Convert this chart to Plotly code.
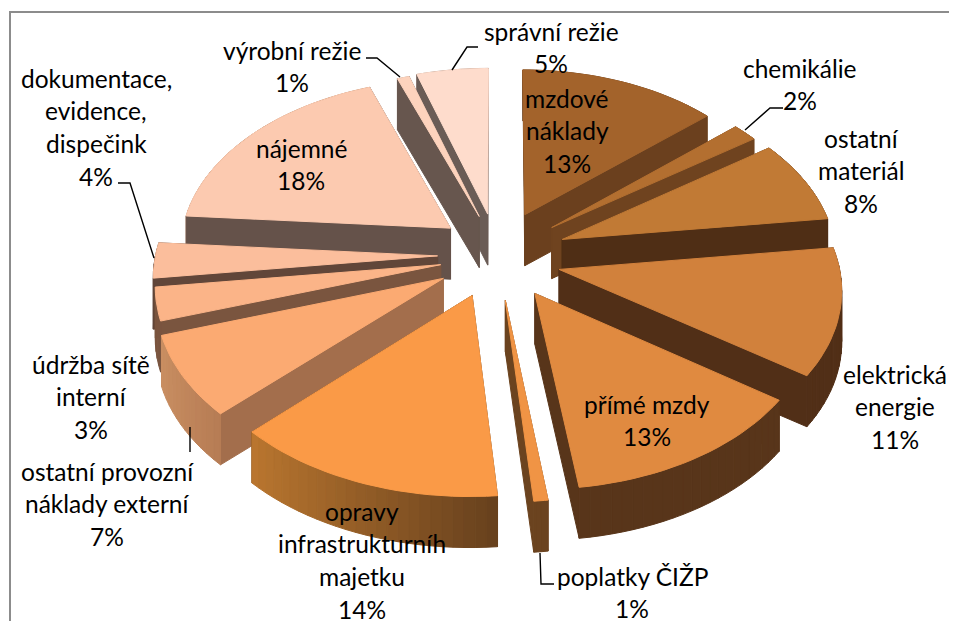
import math
import plotly.graph_objects as go

# ---------- data ----------
categories = ["mzdové náklady", "chemikálie", "ostatní materiál", "elektrická energie",
              "přímé mzdy", "poplatky ČIŽP", "opravy infrastrukturních majetku",
              "ostatní provozní náklady externí", "údržba sítě interní",
              "dokumentace, evidence, dispečink", "nájemné", "výrobní režie", "správní režie"]
values = [13, 2, 8, 11, 13, 1, 14, 7, 3, 4, 18, 1, 5]

# ---------- styles ----------
top_colors = ["#A3632B", "#B36F30", "#C17A35", "#D1813C", "#E08A40", "#F09445", "#FA9A47",
              "#FBAA72", "#FBB488", "#FBBE9C", "#FCCAB0", "#FDD3BD", "#FEDCCC"]
radial_colors = ["#6B401E", "#6F431F", "#4F2E15", "#512F17", "#58351A", "#6B431F", "#66401D",
                 "#A36E4C", "#7A553F", "#614639", "#65524A", "#67564E", "#6A5C56"]
outer_left = ["#6B401E", "#6F431F", "#4F2E15", "#512F17", "#58351A", "#6B431F", "#BA762F",
              "#C98E62", "#7A553F", "#614639", "#C08A68", "#B89A8A", "#B89A8A"]
outer_right = ["#6B401E", "#6F431F", "#4F2E15", "#512F17", "#58351A", "#6B431F", "#66401D",
               "#B67C54", "#7A553F", "#614639", "#C08A68", "#B89A8A", "#B89A8A"]

# perspective skew of each slice's end edge (degrees), slice displacement (px), slice radius factor
edge_skew = [1.8, 0.7, 0, 2.5, 3.2, 2.2, 2.2, 3.6, 3.6, 0.7, 1.4, 0.7, 0]
slice_dx = [-3, 3, 5, -1, 0, -6, -13, -13, -9, -11, -10, -8, -9]
slice_dy = [-9, -6, -3, 6, 8, 10, 7, 5, 2, 0, -6, -6, -7]
slice_r = [0.94, 0.95, 0.97, 0.99, 0.97, 0.99, 0.99, 1.0, 1.0, 1.0, 0.96, 0.95, 0.95]

CX, CY, SX, SY, K, DEPTH, EXPLODE = 505, 255, 282, 175, 0.103, 51, 0.2


def proj(X, Y, Z=0):
    w = 1 / (1 + K * Y)
    return CX + X * SX * w, CY - Y * SY * w + Z * DEPTH


def mix(a, b, t):
    ca = [int(a[i:i + 2], 16) for i in (1, 3, 5)]
    cb = [int(b[i:i + 2], 16) for i in (1, 3, 5)]
    return "#%02x%02x%02x" % tuple(round(p + (q - p) * t) for p, q in zip(ca, cb))


def poly(fig, pts, color, i):
    xs = [p[0] + slice_dx[i] for p in pts]
    ys = [p[1] + slice_dy[i] for p in pts]
    fig.add_trace(go.Scatter(x=xs + xs[:1], y=ys + ys[:1], mode="lines", fill="toself", fillcolor=color,
                             line=dict(color=color, width=1), hoverinfo="skip", showlegend=False))


fig = go.Figure()
total = sum(values)
slices = []
cum = 0
a1 = 0.0
for i, v in enumerate(values):
    a0 = a1
    cum += v
    a1 = math.radians(cum / total * 360 + edge_skew[i])
    mid = (a0 + a1) / 2
    ox, oy = EXPLODE * math.sin(mid), EXPLODE * math.cos(mid)
    n = max(4, int((a1 - a0) / math.radians(2)))
    r = slice_r[i]
    rim = [(ox + r * math.sin(a0 + (a1 - a0) * j / n), oy + r * math.cos(a0 + (a1 - a0) * j / n)) for j in range(n + 1)]
    slices.append(dict(i=i, ox=ox, oy=oy, rim=rim, key=oy + 0.6 * math.cos(mid)))

for s in sorted(slices, key=lambda d: -d["key"]):
    i, ox, oy, rim = s["i"], s["ox"], s["oy"], s["rim"]
    quads = []
    for P in (rim[0], rim[-1]):
        quads.append(((oy + P[1]) / 2, [proj(ox, oy), proj(*P), proj(*P, 1), proj(ox, oy, 1)], radial_colors[i]))
    xs = [p[0] for p in rim]
    for j in range(len(rim) - 1):
        P, Q = rim[j], rim[j + 1]
        xm = (P[0] + Q[0]) / 2
        t = (xm - min(xs)) / (max(xs) - min(xs))
        quads.append(((P[1] + Q[1]) / 2, [proj(*P), proj(*Q), proj(*Q, 1), proj(*P, 1)],
                      mix(outer_left[i], outer_right[i], t)))
    for _, pts, c in sorted(quads, key=lambda q: -q[0]):
        poly(fig, pts, c, i)
    poly(fig, [proj(ox, oy)] + [proj(*p) for p in rim], top_colors[i], i)

# ---------- leader lines ----------
leaders = [
    [(478, 47), (467, 47), (452, 70)],
    [(366, 58), (377, 58), (400, 77)],
    [(783, 108), (770, 108), (745, 130)],
    [(540, 553), (541, 584), (554, 584)],
    [(118, 183), (130, 183), (154, 258)],
    [(190, 427), (190, 452)],
]
for L in leaders:
    fig.add_trace(go.Scatter(x=[p[0] for p in L], y=[p[1] for p in L], mode="lines",
                             line=dict(color="black", width=1.4), hoverinfo="skip", showlegend=False))

# ---------- labels ----------
label_lines = [
    (["správní režie", "5%"], 551, 31),
    (["mzdové", "náklady", "13%"], 567, 98),
    (["chemikálie", "2%"], 800, 68),
    (["ostatní", "materiál", "8%"], 861, 138),
    (["elektrická", "energie", "11%"], 895, 374),
    (["přímé mzdy", "13%"], 647, 404),
    (["poplatky ČIŽP", "1%"], 632, 576),
    (["opravy", "infrastrukturníh", "majetku", "14%"], 362, 511),
    (["ostatní provozní", "náklady externí", "7%"], 107, 471),
    (["údržba sítě", "interní", "3%"], 91, 364),
    (["dokumentace,", "evidence,", "dispečink", "4%"], 96, 78),
    (["nájemné", "18%"], 301, 148),
    (["výrobní režie", "1%"], 292, 50),
]
for lines, x, y0 in label_lines:
    for k, line in enumerate(lines):
        fig.add_annotation(x=x, y=y0 + k * 32.7, text=line, showarrow=False, xanchor="center", yanchor="middle",
                           font=dict(family="Lato", size=24.5, color="black"))

fig.add_trace(go.Scatter(x=[957, 10, 10], y=[12, 12, 621], mode="lines",
                         line=dict(color="#8c8c8c", width=2), hoverinfo="skip", showlegend=False))
# the page has an 8 px body margin, so the figure spans page pixels 8..957 and 8..621
fig.update_layout(width=949, height=613, margin=dict(l=0, r=0, t=0, b=0), autosize=False,
                  paper_bgcolor="white", plot_bgcolor="white", showlegend=False,
                  xaxis=dict(range=[8, 957], visible=False, fixedrange=True),
                  yaxis=dict(range=[621, 8], visible=False, fixedrange=True))
fig.write_html("out.html", config=dict(displayModeBar=False))
